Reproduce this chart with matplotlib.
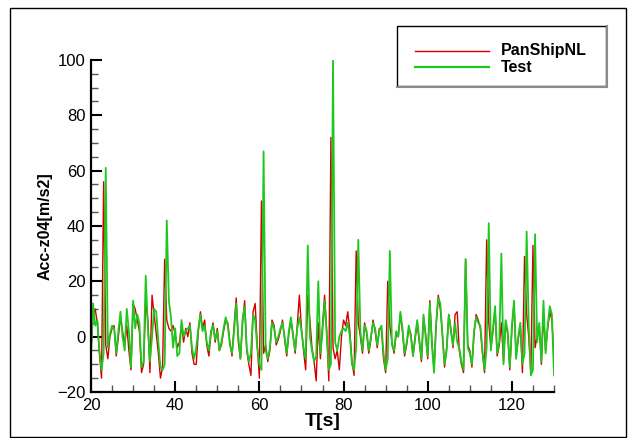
import numpy as np
import matplotlib.pyplot as plt
from matplotlib.lines import Line2D
from matplotlib.patches import Rectangle
from matplotlib.ticker import MultipleLocator

plt.rcParams["font.family"] = ["Liberation Sans", "DejaVu Sans"]

# sampled every 0.5 s from 20 s to 130 s
time_s = np.arange(20.0, 130.01, 0.5)

# Test (measured), one row = 5 s
test_acc = [
    -7, 12, 4, 6, -5, -12, -6, 61, -4, 1,
    4, 3, -6, 2, 9, 0, -5, 10, 2, -11,
    13, 3, 8, 5, -11, -9, 22, 4, -9, 0,
    10, 9, -2, -11, -12, -10, 42, 13, 7, -4,
    3, -7, -6, 6, 0, 2, 3, 4, -4, -8,
    -4, 3, 8, 2, 4, -2, -5, 2, 4, -1,
    2, -5, -2, 3, 7, 4, -3, -6, 2, 12,
    0, -8, 6, 11, -4, -9, -6, 8, 6, -4,
    -10, -12, 67, -5, -8, -4, 5, 3, -2, 0,
    3, 5, 0, -6, 2, 7, 0, -5, 3, 7,
    2, -4, -8, 33, 0, -5, -9, -7, 20, -6,
    2, 13, 1, -12, -10, 100, -2, -5, 0, 2,
    3, 2, 5, 0, -10, -12, -4, 35, 2, -5,
    4, 2, -5, 0, 5, 3, -3, 2, 4, -6,
    -12, -8, 31, -3, -5, 2, 0, 9, 3, -6,
    -2, 4, 0, -7, 0, 6, -1, -8, 8, 0,
    -7, 12, -3, -13, 5, 14, 12, 0, -10, -5,
    8, 2, -3, 5, -2, -4, -9, -12, 28, -4,
    -6, -10, 2, 7, 5, 4, -5, -12, -4, 41,
    -5, 3, 11, -6, -2, 30, -10, 6, 2, -11,
    4, 13, -8, 0, 5, -10, -6, 38, 4, -14,
    -12, 37, -2, 5, -9, 13, -6, 4, 11, 8,
    -14,
]

# PanShipNL (simulation)
panship_acc = [
    -5, 8, 10, 5, -6, -15, 56, -3, -8, 0,
    3, 4, -7, 0, 7, 2, -3, 4, -5, -12,
    12, 10, 6, 2, -13, -10, 13, 6, -13, 15,
    8, 1, -6, -15, -11, 28, 6, 3, 2, 4,
    1, -4, -2, 4, -2, 3, 0, 5, -6, -10,
    -10, 2, 9, 3, 6, -3, -7, 1, 5, -2,
    3, -5, -3, 2, 6, 5, -2, -7, 4, 14,
    -2, -8, 5, 13, -5, -10, -14, 9, 12, -3,
    -15, 49, -6, -3, -9, -5, 6, 4, -3, -1,
    2, 6, -1, -7, 1, 6, 1, -6, 4, 15,
    3, -5, -12, 15, 6, -4, -9, -16, 5, -8,
    4, 15, 2, -16, 72, -4, -8, -5, -12, 0,
    6, 4, 9, 2, -9, -14, 31, 5, 0, -6,
    5, 1, -6, -1, 6, 2, -4, 3, 3, -8,
    -13, 20, 4, -2, -6, 1, 0, 8, 2, -7,
    -3, 3, 1, -7, -1, 5, -2, -9, 7, 1,
    -8, 13, -2, -12, 4, 15, 10, 1, -11, -4,
    8, 3, -4, 8, 9, -5, -10, -13, 28, -3,
    -5, -11, 1, 8, 6, 3, -6, -13, 35, 5,
    -4, 2, 10, -7, -3, 5, -9, 5, 1, -12,
    3, 12, -7, -1, 4, -13, 29, 8, 0, -13,
    33, -4, 0, 4, -10, 8, -5, 3, 9, 6,
    -8,
]

RED = "#d40000"
GREEN = "#1ec81e"

fig = plt.figure(figsize=(6.28, 4.38), dpi=100)
ax = fig.add_axes([91 / 628, 1 - 392 / 438, 463 / 628, 332 / 438])

ax.plot(time_s, panship_acc, color=RED, lw=1.0)
ax.plot(time_s, test_acc, color=GREEN, lw=1.3)

ax.set_xlim(20, 130)
ax.set_ylim(-20, 100)
ax.xaxis.set_major_locator(MultipleLocator(20))
ax.xaxis.set_minor_locator(MultipleLocator(5))
ax.yaxis.set_major_locator(MultipleLocator(20))
ax.yaxis.set_minor_locator(MultipleLocator(5))
ax.tick_params(which="major", direction="in", length=8, width=1.5, labelsize=12, pad=4)
ax.tick_params(which="minor", direction="in", length=5, width=1.0, color="#555555")
for side in ("top", "right"):
    ax.spines[side].set_visible(False)
for side in ("left", "bottom"):
    ax.spines[side].set_linewidth(1.6)

ax.set_xlabel("T[s]", fontsize=14, fontweight="bold", labelpad=0)
ax.set_ylabel("Acc-z04[m/s2]", fontsize=11.5, fontweight="bold", labelpad=3)

# outer frame
fig.add_artist(Rectangle((10 / 628, 1 / 438), 616 / 628, 429 / 438,
                         transform=fig.transFigure, fill=False,
                         edgecolor="black", lw=1.0))

# legend box, grey edge at bottom and right
x0, x1 = 397 / 628, 606 / 628
y0, y1 = 1 - 86 / 438, 1 - 26 / 438
fig.add_artist(Line2D([x0, x1 + 1 / 628], [y0 - 1 / 438] * 2,
                      transform=fig.transFigure, color="#8a8a8a", lw=1.5))
fig.add_artist(Line2D([x1 + 1 / 628] * 2, [y0 - 1 / 438, y1],
                      transform=fig.transFigure, color="#8a8a8a", lw=1.5))
fig.add_artist(Rectangle((x0, y0), x1 - x0, y1 - y0, transform=fig.transFigure,
                         facecolor="white", edgecolor="black", lw=1.0))

entries = [("PanShipNL", RED, 1.0, 51), ("Test", GREEN, 1.6, 67)]
for label, color, lw, py in entries:
    yy = 1 - py / 438
    fig.add_artist(Line2D([415 / 628, 489 / 628], [yy, yy],
                          transform=fig.transFigure, color=color, lw=lw))
    fig.text(501 / 628, yy, label, fontsize=11.5, fontweight="bold",
             va="center", ha="left")

fig.savefig("out.png", dpi=100)
